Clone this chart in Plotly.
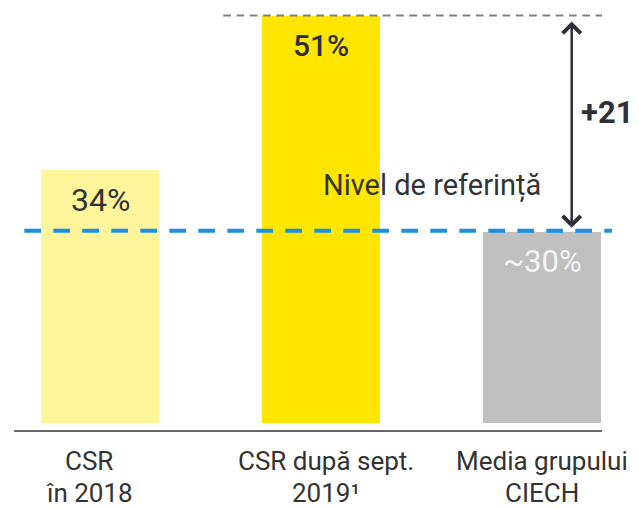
import plotly.graph_objects as go

# ---- data ----
categories = ["CSR<br>în 2018", "CSR după sept.<br>2019¹", "Media grupului<br>CIECH"]
value_labels = ["34%", "51%", "~30%"]
values = [34, 51, 30]
# bar heights as drawn in the source (not proportional to the labels)
bar_heights = [31.7, 51, 24.0]
reference_level = 24.1
difference_label = "+21"
reference_label = "Nivel de referință"

bar_colors = ["#FFF59B", "#FFE600", "#BFBFBF"]
label_colors = ["#333333", "#2E2E38", "#F4F4F4"]
label_weights = [400, 500, 400]
label_sizes = [32, 30, 31]
category_xshift = [-11, 5, 0]

FONT = "Roboto"
x = list(range(len(categories)))

fig = go.Figure()
fig.add_trace(go.Bar(
    x=x, y=bar_heights, width=0.534,
    marker=dict(color=bar_colors, line=dict(width=0)),
    hoverinfo="skip", showlegend=False,
))

# value labels
for i, (lab, h) in enumerate(zip(value_labels, bar_heights)):
    fig.add_annotation(x=i, y=h, xref="x", yref="y", text=lab, showarrow=False,
                       yanchor="middle", yshift=-30,
                       font=dict(family=FONT, size=label_sizes[i], color=label_colors[i],
                                 weight=label_weights[i]))

# category labels (one annotation per line to match the tight line spacing)
for i, cat in enumerate(categories):
    for j, line in enumerate(cat.split("<br>")):
        fig.add_annotation(x=i, y=0, xref="x", yref="paper", text=line, showarrow=False,
                           yanchor="top", yshift=-14 - 32 * j,
                           xshift=category_xshift[i], borderpad=0,
                           font=dict(family=FONT, size=26, color="#333333"))

top_level = bar_heights[1]

# top gray dashed line
fig.add_shape(type="line", xref="x", yref="y", x0=0.556, x1=2.27, y0=top_level, y1=top_level,
              line=dict(color="#808080", width=2, dash="7.7px,5.6px"), layer="above")
# reference blue dashed line
fig.add_shape(type="line", xref="x", yref="y", x0=-0.344, x1=2.315, y0=reference_level, y1=reference_level,
              line=dict(color="#1A8FE3", width=4, dash="16.7px,12.3px"), layer="above")
# baseline
fig.add_shape(type="line", xref="x", yref="paper", x0=-0.39, x1=2.27, y0=0, y1=0,
              line=dict(color="#666666", width=2), layer="above")

# reference label
fig.add_annotation(x=1.5, y=reference_level, xref="x", yref="y", text=reference_label, showarrow=False,
                   yanchor="middle", yshift=45, font=dict(family=FONT, size=29, color="#333333"))

# double arrow
arrow_x = 2.133
fig.add_annotation(x=arrow_x, y=top_level, ax=arrow_x, ay=reference_level, xref="x", yref="y",
                   axref="x", ayref="y", text="", showarrow=True,
                   arrowside="end+start", arrowhead=4, startarrowhead=4,
                   arrowsize=1.4, startarrowsize=1.4, arrowwidth=2.5, arrowcolor="#2E2E38",
                   standoff=6, startstandoff=1.5)
fig.add_annotation(x=arrow_x, y=(top_level + reference_level) / 2, xref="x", yref="y",
                   text=difference_label, showarrow=False, xanchor="left", yanchor="middle",
                   xshift=7, yshift=11,
                   font=dict(family=FONT, size=31, color="#2E2E38", weight="bold"))

fig.update_layout(
    width=639, height=509,
    margin=dict(l=0, r=0, t=0, b=78),
    plot_bgcolor="white", paper_bgcolor="white",
    bargap=0,
    xaxis=dict(range=[-0.454, 2.4376], showticklabels=False, showgrid=False,
               zeroline=False, showline=False, ticks=""),
    yaxis=dict(range=[-0.94, 52.94], visible=False, showgrid=False, zeroline=False),
)

fig.write_html("out.html", config={"displayModeBar": False},
               post_script="document.body.style.margin='0px';")
